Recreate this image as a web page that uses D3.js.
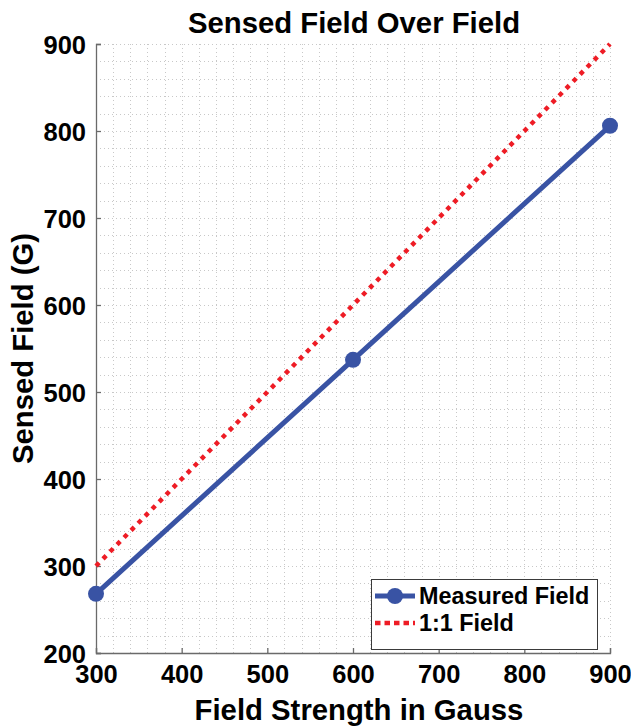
<!DOCTYPE html>
<html>
<head>
<meta charset="utf-8">
<script src="https://cdn.jsdelivr.net/npm/d3@7"></script>
<style>
  html, body { margin: 0; padding: 0; background: #fff; }
  svg { display: block; font-family: "Liberation Sans", Arial, Helvetica, sans-serif; }
</style>
</head>
<body>
<svg id="chart" width="631" height="727"></svg>
<script>
// ---- Data ----
const fieldStrength = [300, 600, 900];
const sensedField = [268, 537, 806];
const oneToOneX = [300, 900];
const oneToOneY = [300, 900];
const xTicks = [300, 400, 500, 600, 700, 800, 900];
const yTicks = [200, 300, 400, 500, 600, 700, 800, 900];
const minorStep = 20;
const titleText = "Sensed Field Over Field";
const xLabelText = "Field Strength in Gauss";
const yLabelText = "Sensed Field (G)";
const seriesNames = ["Measured Field", "1:1 Field"];

// ---- Layout ----
const W = 631, H = 727;
const m = { left: 96, right: 21, top: 44, bottom: 74 };
const pw = W - m.left - m.right, ph = H - m.top - m.bottom;
const blue = "#3953a4", red = "#ee1c25";

const svg = d3.select("#chart");
const x = d3.scaleLinear().domain([300, 900]).range([m.left, m.left + pw]);
const y = d3.scaleLinear().domain([200, 900]).range([m.top + ph, m.top]);

// grid
const grid = svg.append("g").attr("stroke", "#c8c8c8").attr("stroke-width", 1)
  .attr("stroke-dasharray", "1,3");
const gx = d3.range(300 + minorStep, 900 + 1, minorStep);
const gy = d3.range(200 + minorStep, 900 + 1, minorStep);
grid.selectAll(".gx").data(gx).join("line")
  .attr("x1", d => Math.round(x(d)) + 0.5).attr("x2", d => Math.round(x(d)) + 0.5)
  .attr("y1", m.top).attr("y2", m.top + ph);
grid.selectAll(".gy").data(gy).join("line")
  .attr("y1", d => Math.round(y(d)) + 0.5).attr("y2", d => Math.round(y(d)) + 0.5)
  .attr("x1", m.left).attr("x2", m.left + pw);

// axes
const xAxis = d3.axisBottom(x).tickValues(xTicks).tickSize(-5).tickPadding(12).tickFormat(d3.format("d"));
const yAxis = d3.axisLeft(y).tickValues(yTicks).tickSize(-5).tickPadding(10).tickFormat(d3.format("d"));
const gX = svg.append("g").attr("transform", `translate(0,${m.top + ph})`).call(xAxis);
const gY = svg.append("g").attr("transform", `translate(${m.left},0)`).call(yAxis);
[gX, gY].forEach(g => {
  g.select(".domain").attr("stroke", "#6a6a6a").attr("stroke-width", 1.3);
  g.selectAll(".tick line").attr("stroke", "#6a6a6a").attr("stroke-width", 1.3);
  g.selectAll(".tick text").attr("fill", "#000").attr("font-size", 25.5).attr("font-weight", "bold")
    .attr("font-family", "Liberation Sans, Arial, sans-serif");
});
gX.selectAll(".tick text").attr("dy", "0.71em");
gY.selectAll(".tick text").attr("dy", "0.36em");

// lines
const line = d3.line().x(d => x(d[0])).y(d => y(d[1]));
const measured = fieldStrength.map((v, i) => [v, sensedField[i]]);
const ideal = oneToOneX.map((v, i) => [v, oneToOneY[i]]);
svg.append("path").datum(measured).attr("d", line).attr("fill", "none")
  .attr("stroke", blue).attr("stroke-width", 5);
svg.selectAll(".pt").data(measured).join("circle")
  .attr("cx", d => x(d[0])).attr("cy", d => y(d[1])).attr("r", 8).attr("fill", blue);
svg.append("path").datum(ideal).attr("d", line).attr("fill", "none")
  .attr("stroke", red).attr("stroke-width", 4.5).attr("stroke-dasharray", "4.5,5.5");

// legend
const lg = svg.append("g");
const lx = 371, ly = 579, lw = 226, lh = 70;
lg.append("rect").attr("x", lx + 0.5).attr("y", ly + 0.5).attr("width", lw).attr("height", lh)
  .attr("fill", "#fff").attr("stroke", "#3a3a3a").attr("stroke-width", 1);
const rows = [ly + 17, ly + 44];
lg.append("line").attr("x1", lx + 4).attr("x2", lx + 44).attr("y1", rows[0]).attr("y2", rows[0])
  .attr("stroke", blue).attr("stroke-width", 5);
lg.append("circle").attr("cx", lx + 24).attr("cy", rows[0]).attr("r", 8).attr("fill", blue);
lg.append("line").attr("x1", lx + 4).attr("x2", lx + 44).attr("y1", rows[1]).attr("y2", rows[1])
  .attr("stroke", red).attr("stroke-width", 4.5).attr("stroke-dasharray", "5.5,4");
lg.selectAll(".lt").data(seriesNames).join("text")
  .attr("x", lx + 48).attr("y", (d, i) => rows[i]).attr("dy", "0.36em")
  .attr("font-size", 23.4).attr("font-weight", "bold").attr("fill", "#000").text(d => d);

// title and labels
svg.append("text").attr("x", m.left + pw / 2 + 1).attr("y", 33).attr("text-anchor", "middle")
  .attr("font-size", 29.3).attr("font-weight", "bold").text(titleText);
svg.append("text").attr("x", m.left + pw / 2 + 6).attr("y", 720).attr("text-anchor", "middle")
  .attr("font-size", 29.3).attr("font-weight", "bold").text(xLabelText);
svg.append("text").attr("transform", `translate(33,${m.top + ph / 2}) rotate(-90)`).attr("text-anchor", "middle")
  .attr("font-size", 29.3).attr("font-weight", "bold").text(yLabelText);
</script>
</body>
</html>
